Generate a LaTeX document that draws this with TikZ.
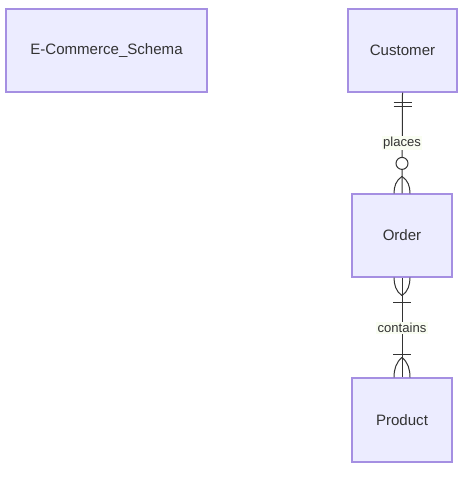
\documentclass[tikz,border=0pt]{standalone}
\usepackage{fontspec}
\setmainfont{Liberation Sans}
\usetikzlibrary{calc}
\definecolor{entfill}{HTML}{ECECFF}
\definecolor{entdraw}{HTML}{A58FE2}
\definecolor{ink}{HTML}{333333}
\definecolor{lblbg}{HTML}{F9FDF2}
\tikzset{
  entity/.style={draw=entdraw, fill=entfill, line width=0.9pt, text=ink, font=\fontsize{11.3}{13}\selectfont, inner sep=0pt},
  rel/.style={draw=ink, line width=0.75pt},
  ermark/.style={draw=ink, line width=0.75pt},
  rellabel/.style={fill=lblbg, text=ink, font=\fontsize{9.8}{11}\selectfont, inner sep=1pt}
}
\begin{document}
\begin{tikzpicture}[x=0.75pt,y=-0.75pt]
\useasboundingbox (0,0) rectangle (472,477);
\fill[white] (0,0) rectangle (472,477);
\node[entity, minimum width=201*0.75pt, minimum height=83*0.75pt] (schema) at (106.5,50.5) {E-Commerce\_Schema};
\node[entity, minimum width=109*0.75pt, minimum height=83*0.75pt] (cust) at (402.5,50.5) {Customer};
\node[entity, minimum width=100*0.75pt, minimum height=83*0.75pt] (order) at (402,235.5) {Order};
\node[entity, minimum width=100*0.75pt, minimum height=84*0.75pt] (prod) at (402,420) {Product};
% relationship lines
\draw[rel] (cust.south) -- (order.north);
\draw[rel] (order.south) -- (prod.north);
% Customer: exactly one
\draw[ermark] ($(cust.south)+(-9,10)$) -- ($(cust.south)+(9,10)$);
\draw[ermark] ($(cust.south)+(-9,14)$) -- ($(cust.south)+(9,14)$);
% Order top: zero or more
\coordinate (ot) at (order.north);
\draw[ermark] ($(ot)+(0,-17)$) .. controls ($(ot)+(-6,-13)$) and ($(ot)+(-8,-7)$) .. ($(ot)+(-8,0)$);
\draw[ermark] ($(ot)+(0,-17)$) .. controls ($(ot)+(6,-13)$) and ($(ot)+(8,-7)$) .. ($(ot)+(8,0)$);
\draw[ermark, fill=white] ($(ot)+(0,-30)$) circle[radius=6];
% Order bottom: one or more
\coordinate (ob) at (order.south);
\draw[ermark] ($(ob)+(0,18)$) .. controls ($(ob)+(-6,14)$) and ($(ob)+(-8,7)$) .. ($(ob)+(-8,0)$);
\draw[ermark] ($(ob)+(0,18)$) .. controls ($(ob)+(6,14)$) and ($(ob)+(8,7)$) .. ($(ob)+(8,0)$);
\draw[ermark] ($(ob)+(-9,24.5)$) -- ($(ob)+(9,24.5)$);
% Product top: one or more
\coordinate (pt) at (prod.north);
\draw[ermark] ($(pt)+(0,-20)$) .. controls ($(pt)+(-6,-15)$) and ($(pt)+(-8,-8)$) .. ($(pt)+(-8,0)$);
\draw[ermark] ($(pt)+(0,-20)$) .. controls ($(pt)+(6,-15)$) and ($(pt)+(8,-8)$) .. ($(pt)+(8,0)$);
\draw[ermark] ($(pt)+(-9,-23)$) -- ($(pt)+(9,-23)$);
% labels
\node[rellabel] (l1) at (402,143) {places};
\node[rellabel] (l2) at (402,328) {contains};
\end{tikzpicture}
\end{document}
